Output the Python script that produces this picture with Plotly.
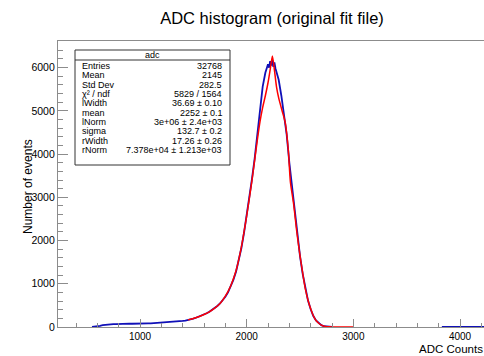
import plotly.graph_objects as go

# ---------------- data ----------------
hist_x = [550, 575, 600, 625, 650, 675, 700, 725, 750, 775, 800, 825, 850, 875, 900, 925, 950, 975,
          1000, 1025, 1050, 1075, 1100, 1125, 1150, 1175, 1200, 1225, 1250, 1275, 1300, 1325, 1350, 1375,
          1400, 1425, 1450, 1475, 1500, 1525, 1550, 1575, 1600, 1625, 1650, 1675, 1700, 1725, 1750, 1775,
          1800, 1825, 1850, 1875, 1900, 1925, 1950, 1975, 2000, 2025, 2050, 2075, 2100, 2125, 2150, 2175,
          2200, 2210, 2220, 2230, 2240, 2250, 2260, 2270, 2285, 2300, 2325, 2350, 2375, 2400, 2425, 2450,
          2475, 2500, 2525, 2550, 2575, 2600, 2625, 2650, 2675, 2700, 2725, 2750, 2775, 2800,
          None, 3830, 4230]
hist_y = [0, 4, 14, 28, 42, 52, 60, 64, 68, 66, 71, 70, 74, 72, 76, 75, 79, 77,
          81, 80, 83, 85, 84, 88, 91, 93, 97, 100, 103, 108, 113, 118, 125, 131,
          140, 150, 160, 176, 193, 214, 236, 262, 290, 318, 352, 392, 438, 486, 545, 610,
          700, 800, 925, 1090, 1280, 1520, 1820, 2180, 2580, 2990, 3430, 3900, 4450, 5150, 5560, 5880,
          6080, 6000, 6150, 6050, 6180, 6020, 6120, 5980, 5850, 5720, 5350, 4930, 4450, 3800, 3250, 2760,
          2140, 1640, 1230, 880, 610, 410, 255, 150, 85, 42, 18, 7, 2, 0,
          None, 0, 0]

fit_x = [1450, 1500, 1550, 1600, 1650, 1700, 1750, 1800, 1850, 1900, 1950, 2000, 2050, 2100, 2125,
         2150, 2175, 2200, 2220, 2241, 2260, 2280, 2300, 2330, 2360, 2390, 2410, 2440, 2470, 2500,
         2525, 2550, 2575, 2600, 2625, 2650, 2675, 2700, 2725, 2750, 2775, 2800, 3000]
fit_y = [165, 195, 238, 288, 352, 438, 545, 715, 950, 1300, 1850, 2570, 3400, 4330, 4750,
         5080, 5350, 5650, 5950, 6270, 5950, 5550, 5300, 5020, 4750, 4100, 3350, 2850, 2200, 1650,
         1250, 880, 620, 420, 260, 150, 88, 45, 20, 8, 3, 0, 0]

stat_labels = ["Entries", "Mean", "Std Dev", "χ² / ndf", "lWidth", "mean",
               "lNorm", "sigma", "rWidth", "rNorm"]
stat_values = ["32768", "2145", "282.5", "5829 / 1564", "36.69 ± 0.10", "2252 ± 0.1",
               "3e+06 ± 2.4e+03", "132.7 ± 0.2", "17.26 ± 0.26", "7.378e+04 ± 1.213e+03"]

# ---------------- layout helpers ----------------
W, H = 484, 356
L, R, T, B = 58, 0, 41, 29
PW, PH = W - L - R, H - T - B


def px(x):
    return (x - L) / PW


def py(y):
    return (H - B - y) / PH


FONT = "Liberation Sans, Arial, Helvetica, sans-serif"
AXC = "#8c8c8c"

fig = go.Figure()
fig.add_trace(go.Scatter(x=hist_x, y=hist_y, mode="lines",
                         line=dict(color="#1010b8", width=1.8),
                         hoverinfo="skip", showlegend=False))
fig.add_trace(go.Scatter(x=fit_x, y=fit_y, mode="lines",
                         line=dict(color="#ff0000", width=1.5, shape="spline", smoothing=0.6),
                         hoverinfo="skip", showlegend=False))

fig.update_layout(
    width=W, height=H,
    margin=dict(l=L, r=R, t=T, b=B, pad=0),
    paper_bgcolor="white", plot_bgcolor="white",
    font=dict(family=FONT, color="black", size=10),
    title=dict(text="ADC histogram (original fit file)", x=272 / W, xref="container",
               xanchor="center", y=1 - 18 / H, yref="container", yanchor="middle",
               font=dict(size=16.5, family=FONT, color="black")),
    xaxis=dict(range=[231, 4225], showgrid=False, zeroline=False,
               showline=True, linecolor=AXC, linewidth=1.2, mirror=True,
               ticks="inside", ticklen=8, tickcolor=AXC, tickwidth=1,
               dtick=1000, tick0=0, tickfont=dict(size=10),
               minor=dict(dtick=200, tick0=0, ticks="inside", ticklen=4, tickcolor=AXC,
                          showgrid=False)),
    yaxis=dict(range=[0, 6616], showgrid=False, zeroline=False,
               showline=True, linecolor=AXC, linewidth=1.2,
               ticks="inside", ticklen=10, tickcolor=AXC, tickwidth=1,
               dtick=1000, tick0=0, tickfont=dict(size=10.5),
               minor=dict(dtick=200, tick0=0, ticks="inside", ticklen=5, tickcolor=AXC,
                          showgrid=False)),
)

# axis titles
fig.add_annotation(text="ADC Counts", xref="paper", yref="paper", x=px(484), y=py(356),
                   xanchor="right", yanchor="bottom", showarrow=False, borderpad=0,
                   font=dict(size=11.5, family=FONT))
fig.add_annotation(text="Number of events", xref="paper", yref="paper", x=px(28), y=py(187),
                   xanchor="center", yanchor="middle", textangle=-90, showarrow=False,
                   font=dict(size=12, family=FONT))

# stats box
bx0, bx1, by0, by1 = 75, 230, 50, 165
fig.add_shape(type="rect", xref="paper", yref="paper", x0=px(bx0), x1=px(bx1), y0=py(by1), y1=py(by0),
              line=dict(color="#333333", width=1), fillcolor="white", layer="above")
fig.add_shape(type="line", xref="paper", yref="paper", x0=px(bx0), x1=px(bx1), y0=py(60), y1=py(60),
              line=dict(color="#333333", width=1), layer="above")
fig.add_annotation(text="adc", xref="paper", yref="paper", x=px((bx0 + bx1) / 2), y=py(55),
                   xanchor="center", yanchor="middle", showarrow=False, font=dict(size=9, family=FONT))
for i, (lab, val) in enumerate(zip(stat_labels, stat_values)):
    yy = py(66 + i * 9.33)
    fig.add_annotation(text=lab, xref="paper", yref="paper", x=px(81), y=yy,
                       xanchor="left", yanchor="middle", showarrow=False, borderpad=0,
                       font=dict(size=9, family=FONT))
    fig.add_annotation(text=val, xref="paper", yref="paper", x=px(223), y=yy,
                       xanchor="right", yanchor="middle", showarrow=False, borderpad=0,
                       font=dict(size=9, family=FONT))

fig.write_html("out.html")
